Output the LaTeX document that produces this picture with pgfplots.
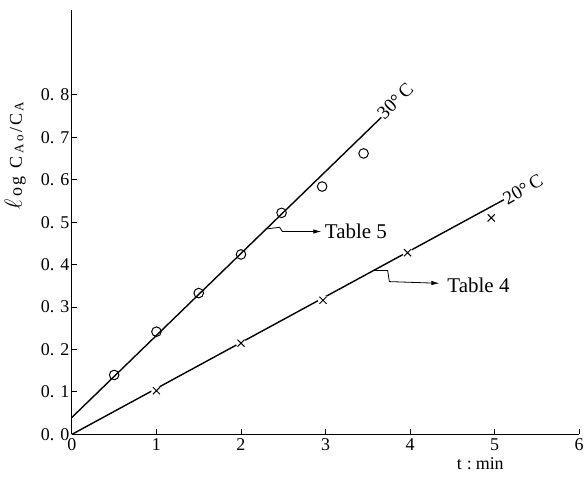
\documentclass[border=0pt]{standalone}
\usepackage{fontspec}
\setmainfont{Liberation Serif}
\usepackage{pgfplots}
\pgfplotsset{compat=1.18}
\usetikzlibrary{arrows.meta}

% first-order plots: 20 C (Table 4) and 30 C (Table 5)
\pgfplotstableread{
t    y
0.5  0.140
1.0  0.242
1.5  0.333
2.0  0.424
2.48 0.522
2.96 0.584
3.45 0.662
}\tablefive
\pgfplotstableread{
t    y
1.0  0.103
2.0  0.215
2.97 0.316
3.97 0.428
4.96 0.510
}\tablefour

\newcommand{\yt}[1]{0.\hspace{6pt}#1}
\newcommand{\sub}[1]{\raisebox{-1.5pt}{\fontsize{13}{13}\selectfont #1}}
\newcommand{\gap}{\hspace{2.5pt}}

\begin{document}
\begin{tikzpicture}
\begin{axis}[
  at={(0pt,0pt)}, anchor=south west,
  width=508pt, height=425pt, scale only axis,
  xmin=0, xmax=6, ymin=0, ymax=1,
  axis lines=left,
  axis line style={-, line width=1.2pt},
  tick align=inside,
  major tick length=5pt,
  tick style={line width=0.9pt, black},
  xtick={0,1,2,3,4,5,6},
  xticklabels={0,1,2,3,4,5,6},
  ytick={0,0.1,0.2,0.3,0.4,0.5,0.6,0.7,0.8},
  yticklabels={\yt0,\yt1,\yt2,\yt3,\yt4,\yt5,\yt6,\yt7,\yt8},
  ticklabel style={font=\fontsize{18}{18}\selectfont},
  xticklabel style={yshift=-1pt},
  yticklabel style={xshift=1pt},
  xlabel={\fontsize{18}{18}\selectfont t\hspace{5pt}:\hspace{4pt}min},
  xlabel style={at={(axis description cs:0.805,-0.068)}, anchor=center},
  ylabel={\fontsize{18}{18}\selectfont{\fontsize{25}{25}\selectfont$\ell$}\gap o\gap g\hspace{8pt}C\gap\sub{A\gap o}\gap/\gap C\gap\sub{A}},
  ylabel style={at={(axis description cs:-0.112,0.657)}, anchor=center},
  clip=false,
]
% fitted lines
\addplot[no marks, line width=1.4pt] coordinates {(0,0.040) (3.66,0.747)};
\addplot[no marks, line width=1.4pt] coordinates {(0,0) (5.11,0.553)};
% measured points
\addplot[only marks, mark=o, mark size=4.8pt, mark options={fill=white, line width=1pt}] table[x=t,y=y] {\tablefive};
\addplot[only marks, mark=*, mark size=5pt, white] table[x=t,y=y] {\tablefour};
\addplot[only marks, mark=x, mark size=5pt, mark options={line width=1pt}] table[x=t,y=y] {\tablefour};
% temperature labels
\node[anchor=south west, rotate=45, inner sep=1pt, font=\fontsize{19}{19}\selectfont] at (axis cs:3.70,0.735) {30°\,C};
\node[anchor=south west, rotate=30, inner sep=1pt, font=\fontsize{19}{19}\selectfont] at (axis cs:5.15,0.535) {20°\,C};
% leaders to the tables
\draw[line width=0.8pt, -{Latex[length=8pt,width=4.5pt]}] (axis cs:2.30,0.484) -- (axis cs:2.456,0.488) -- (axis cs:2.49,0.478) -- (axis cs:2.95,0.478);
\node[anchor=base west, inner sep=0pt, font=\fontsize{21}{21}\selectfont] at (axis cs:2.99,0.462) {Table 5};
\draw[line width=0.8pt, -{Latex[length=8pt,width=4.5pt]}] (axis cs:3.57,0.386) -- (axis cs:3.735,0.386) -- (axis cs:3.755,0.360) -- (axis cs:4.346,0.356);
\node[anchor=base west, inner sep=0pt, font=\fontsize{21}{21}\selectfont] at (axis cs:4.44,0.334) {Table 4};
\end{axis}
\path[use as bounding box] (-72pt,-42pt) rectangle (515pt,435pt);
\end{tikzpicture}
\end{document}
